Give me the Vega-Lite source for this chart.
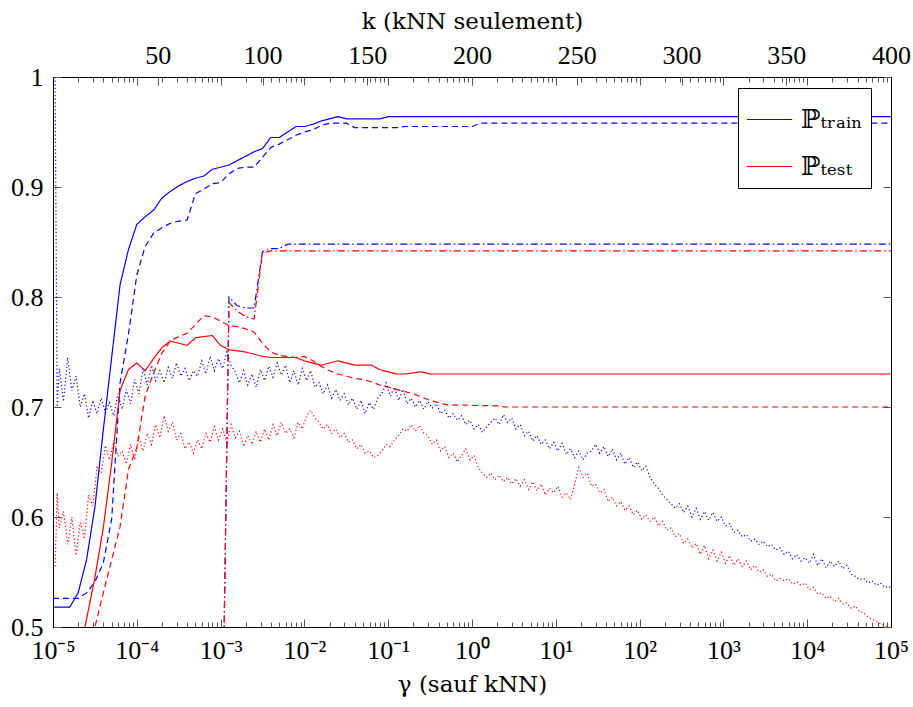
{
 "$schema": "https://vega.github.io/schema/vega-lite/v6.json",
 "width": 838,
 "height": 550,
 "autosize": {"type": "none"},
 "padding": {"left": 53, "top": 77, "right": 22, "bottom": 80},
 "config": {
  "font": "'Liberation Serif', serif",
  "view": {"stroke": "#000", "strokeWidth": 1},
  "axis": {"grid": false, "domainColor": "#000", "domainWidth": 1, "labelColor": "#000", "titleColor": "#000", "tickColor": "#555", "tickWidth": 1, "labelOverlap": false, "labelFlush": false, "labelBound": false}
 },
 "datasets": {
  "gam": [
   {"set":"train","line":"solid","g":1e-5,"v":0.518},{"set":"train","line":"solid","g":1.585e-5,"v":0.518},{"set":"train","line":"solid","g":1.995e-5,"v":0.531},{"set":"train","line":"solid","g":2.512e-5,"v":0.561},{"set":"train","line":"solid","g":3.162e-5,"v":0.609},{"set":"train","line":"solid","g":3.981e-5,"v":0.679},{"set":"train","line":"solid","g":5.012e-5,"v":0.745},{"set":"train","line":"solid","g":6.310e-5,"v":0.811},{"set":"train","line":"solid","g":7.943e-5,"v":0.843},{"set":"train","line":"solid","g":1e-4,"v":0.866},{"set":"train","line":"solid","g":1.259e-4,"v":0.873},{"set":"train","line":"solid","g":1.585e-4,"v":0.879},{"set":"train","line":"solid","g":1.995e-4,"v":0.890},{"set":"train","line":"solid","g":2.512e-4,"v":0.896},{"set":"train","line":"solid","g":3.162e-4,"v":0.901},{"set":"train","line":"solid","g":3.981e-4,"v":0.905},{"set":"train","line":"solid","g":5.012e-4,"v":0.908},{"set":"train","line":"solid","g":6.310e-4,"v":0.910},{"set":"train","line":"solid","g":7.943e-4,"v":0.916},{"set":"train","line":"solid","g":1e-3,"v":0.918},{"set":"train","line":"solid","g":1.259e-3,"v":0.920},{"set":"train","line":"solid","g":1.585e-3,"v":0.924},{"set":"train","line":"solid","g":1.995e-3,"v":0.928},{"set":"train","line":"solid","g":2.512e-3,"v":0.932},{"set":"train","line":"solid","g":3.162e-3,"v":0.935},{"set":"train","line":"solid","g":3.981e-3,"v":0.945},{"set":"train","line":"solid","g":5.012e-3,"v":0.945},{"set":"train","line":"solid","g":6.310e-3,"v":0.950},{"set":"train","line":"solid","g":7.943e-3,"v":0.955},{"set":"train","line":"solid","g":1e-2,"v":0.955},{"set":"train","line":"solid","g":1.259e-2,"v":0.957},{"set":"train","line":"solid","g":1.585e-2,"v":0.960},{"set":"train","line":"solid","g":1.995e-2,"v":0.962},{"set":"train","line":"solid","g":2.512e-2,"v":0.964},{"set":"train","line":"solid","g":3.162e-2,"v":0.962},{"set":"train","line":"solid","g":7.943e-2,"v":0.962},{"set":"train","line":"solid","g":0.1,"v":0.964},{"set":"train","line":"solid","g":1e5,"v":0.964},
   {"set":"train","line":"dashed","g":1e-5,"v":0.526},{"set":"train","line":"dashed","g":1.995e-5,"v":0.526},{"set":"train","line":"dashed","g":2.512e-5,"v":0.531},{"set":"train","line":"dashed","g":3.162e-5,"v":0.541},{"set":"train","line":"dashed","g":3.981e-5,"v":0.558},{"set":"train","line":"dashed","g":5.012e-5,"v":0.598},{"set":"train","line":"dashed","g":6.310e-5,"v":0.722},{"set":"train","line":"dashed","g":7.943e-5,"v":0.766},{"set":"train","line":"dashed","g":1e-4,"v":0.820},{"set":"train","line":"dashed","g":1.259e-4,"v":0.846},{"set":"train","line":"dashed","g":1.585e-4,"v":0.858},{"set":"train","line":"dashed","g":1.995e-4,"v":0.863},{"set":"train","line":"dashed","g":2.512e-4,"v":0.867},{"set":"train","line":"dashed","g":3.162e-4,"v":0.869},{"set":"train","line":"dashed","g":3.981e-4,"v":0.870},{"set":"train","line":"dashed","g":5.012e-4,"v":0.894},{"set":"train","line":"dashed","g":6.310e-4,"v":0.898},{"set":"train","line":"dashed","g":7.943e-4,"v":0.903},{"set":"train","line":"dashed","g":1e-3,"v":0.904},{"set":"train","line":"dashed","g":1.259e-3,"v":0.912},{"set":"train","line":"dashed","g":1.585e-3,"v":0.917},{"set":"train","line":"dashed","g":1.995e-3,"v":0.918},{"set":"train","line":"dashed","g":2.512e-3,"v":0.918},{"set":"train","line":"dashed","g":3.162e-3,"v":0.927},{"set":"train","line":"dashed","g":3.981e-3,"v":0.936},{"set":"train","line":"dashed","g":5.012e-3,"v":0.939},{"set":"train","line":"dashed","g":6.310e-3,"v":0.943},{"set":"train","line":"dashed","g":7.943e-3,"v":0.947},{"set":"train","line":"dashed","g":1e-2,"v":0.950},{"set":"train","line":"dashed","g":1.259e-2,"v":0.952},{"set":"train","line":"dashed","g":1.585e-2,"v":0.956},{"set":"train","line":"dashed","g":1.995e-2,"v":0.958},{"set":"train","line":"dashed","g":3.162e-2,"v":0.958},{"set":"train","line":"dashed","g":3.981e-2,"v":0.954},{"set":"train","line":"dashed","g":0.1259,"v":0.954},{"set":"train","line":"dashed","g":0.1585,"v":0.955},{"set":"train","line":"dashed","g":1,"v":0.955},{"set":"train","line":"dashed","g":1.259,"v":0.958},{"set":"train","line":"dashed","g":1e5,"v":0.958},
   {"set":"test","line":"solid","g":1.585e-5,"v":0.434},{"set":"test","line":"solid","g":2.512e-5,"v":0.507},{"set":"test","line":"solid","g":3.162e-5,"v":0.545},{"set":"test","line":"solid","g":3.981e-5,"v":0.590},{"set":"test","line":"solid","g":5.012e-5,"v":0.649},{"set":"test","line":"solid","g":6.310e-5,"v":0.715},{"set":"test","line":"solid","g":7.943e-5,"v":0.734},{"set":"test","line":"solid","g":1e-4,"v":0.740},{"set":"test","line":"solid","g":1.259e-4,"v":0.733},{"set":"test","line":"solid","g":1.585e-4,"v":0.744},{"set":"test","line":"solid","g":1.995e-4,"v":0.754},{"set":"test","line":"solid","g":2.512e-4,"v":0.760},{"set":"test","line":"solid","g":3.162e-4,"v":0.758},{"set":"test","line":"solid","g":3.981e-4,"v":0.756},{"set":"test","line":"solid","g":5.012e-4,"v":0.763},{"set":"test","line":"solid","g":6.310e-4,"v":0.764},{"set":"test","line":"solid","g":7.943e-4,"v":0.765},{"set":"test","line":"solid","g":1e-3,"v":0.756},{"set":"test","line":"solid","g":1.259e-3,"v":0.752},{"set":"test","line":"solid","g":1.585e-3,"v":0.751},{"set":"test","line":"solid","g":1.995e-3,"v":0.750},{"set":"test","line":"solid","g":2.512e-3,"v":0.748},{"set":"test","line":"solid","g":3.162e-3,"v":0.746},{"set":"test","line":"solid","g":3.981e-3,"v":0.745},{"set":"test","line":"solid","g":7.943e-3,"v":0.745},{"set":"test","line":"solid","g":1e-2,"v":0.742},{"set":"test","line":"solid","g":1.585e-2,"v":0.738},{"set":"test","line":"solid","g":2.512e-2,"v":0.742},{"set":"test","line":"solid","g":3.981e-2,"v":0.738},{"set":"test","line":"solid","g":6.310e-2,"v":0.738},{"set":"test","line":"solid","g":7.943e-2,"v":0.734},{"set":"test","line":"solid","g":0.1259,"v":0.730},{"set":"test","line":"solid","g":0.1585,"v":0.730},{"set":"test","line":"solid","g":0.2512,"v":0.732},{"set":"test","line":"solid","g":0.3162,"v":0.730},{"set":"test","line":"solid","g":1e5,"v":0.730},
   {"set":"test","line":"dashed","g":1.995e-5,"v":0.430},{"set":"test","line":"dashed","g":3.162e-5,"v":0.500},{"set":"test","line":"dashed","g":3.981e-5,"v":0.531},{"set":"test","line":"dashed","g":5.012e-5,"v":0.561},{"set":"test","line":"dashed","g":6.310e-5,"v":0.591},{"set":"test","line":"dashed","g":7.943e-5,"v":0.643},{"set":"test","line":"dashed","g":1e-4,"v":0.663},{"set":"test","line":"dashed","g":1.259e-4,"v":0.710},{"set":"test","line":"dashed","g":1.585e-4,"v":0.731},{"set":"test","line":"dashed","g":1.995e-4,"v":0.749},{"set":"test","line":"dashed","g":2.512e-4,"v":0.760},{"set":"test","line":"dashed","g":3.162e-4,"v":0.764},{"set":"test","line":"dashed","g":3.981e-4,"v":0.767},{"set":"test","line":"dashed","g":5.012e-4,"v":0.775},{"set":"test","line":"dashed","g":6.310e-4,"v":0.783},{"set":"test","line":"dashed","g":7.943e-4,"v":0.782},{"set":"test","line":"dashed","g":1e-3,"v":0.778},{"set":"test","line":"dashed","g":1.259e-3,"v":0.774},{"set":"test","line":"dashed","g":1.585e-3,"v":0.773},{"set":"test","line":"dashed","g":1.995e-3,"v":0.771},{"set":"test","line":"dashed","g":2.512e-3,"v":0.768},{"set":"test","line":"dashed","g":3.162e-3,"v":0.758},{"set":"test","line":"dashed","g":3.981e-3,"v":0.750},{"set":"test","line":"dashed","g":5.012e-3,"v":0.747},{"set":"test","line":"dashed","g":6.310e-3,"v":0.746},{"set":"test","line":"dashed","g":7.943e-3,"v":0.745},{"set":"test","line":"dashed","g":1e-2,"v":0.746},{"set":"test","line":"dashed","g":1.259e-2,"v":0.742},{"set":"test","line":"dashed","g":1.585e-2,"v":0.737},{"set":"test","line":"dashed","g":1.995e-2,"v":0.733},{"set":"test","line":"dashed","g":2.512e-2,"v":0.730},{"set":"test","line":"dashed","g":3.162e-2,"v":0.728},{"set":"test","line":"dashed","g":3.981e-2,"v":0.726},{"set":"test","line":"dashed","g":5.012e-2,"v":0.725},{"set":"test","line":"dashed","g":6.310e-2,"v":0.723},{"set":"test","line":"dashed","g":7.943e-2,"v":0.720},{"set":"test","line":"dashed","g":0.1,"v":0.718},{"set":"test","line":"dashed","g":0.1259,"v":0.716},{"set":"test","line":"dashed","g":0.1585,"v":0.714},{"set":"test","line":"dashed","g":0.1995,"v":0.712},{"set":"test","line":"dashed","g":0.2512,"v":0.709},{"set":"test","line":"dashed","g":0.3162,"v":0.706},{"set":"test","line":"dashed","g":0.3981,"v":0.704},{"set":"test","line":"dashed","g":0.5012,"v":0.702},{"set":"test","line":"dashed","g":1.995,"v":0.701},{"set":"test","line":"dashed","g":2.512,"v":0.700},{"set":"test","line":"dashed","g":1e5,"v":0.700},
   {"set":"train","line":"dashdot","g":1e-3,"v":0.28},{"set":"train","line":"dashdot","g":1.259e-3,"v":0.800},{"set":"train","line":"dashdot","g":1.585e-3,"v":0.792},{"set":"train","line":"dashdot","g":1.995e-3,"v":0.790},{"set":"train","line":"dashdot","g":2.512e-3,"v":0.790},{"set":"train","line":"dashdot","g":3.162e-3,"v":0.841},{"set":"train","line":"dashdot","g":3.981e-3,"v":0.844},{"set":"train","line":"dashdot","g":5.012e-3,"v":0.844},{"set":"train","line":"dashdot","g":6.310e-3,"v":0.848},{"set":"train","line":"dashdot","g":1e5,"v":0.848},
   {"set":"test","line":"dashdot","g":1e-3,"v":0.28},{"set":"test","line":"dashdot","g":1.259e-3,"v":0.795},{"set":"test","line":"dashdot","g":1.585e-3,"v":0.787},{"set":"test","line":"dashdot","g":1.995e-3,"v":0.782},{"set":"test","line":"dashdot","g":2.512e-3,"v":0.780},{"set":"test","line":"dashdot","g":3.162e-3,"v":0.840},{"set":"test","line":"dashdot","g":3.981e-3,"v":0.842},{"set":"test","line":"dashdot","g":1e5,"v":0.842}
  ],
  "knn": [
   {"k":1,"train":1.000,"test":0.555},{"k":2,"train":0.700,"test":0.622},{"k":3,"train":0.735,"test":0.590},{"k":5,"train":0.705,"test":0.605},{"k":7,"train":0.745,"test":0.575},{"k":9,"train":0.715,"test":0.600},{"k":11,"train":0.728,"test":0.565},{"k":13,"train":0.700,"test":0.595},{"k":15,"train":0.712,"test":0.580},{"k":17,"train":0.690,"test":0.620},{"k":19,"train":0.706,"test":0.610},{"k":21,"train":0.694,"test":0.645},{"k":23,"train":0.708,"test":0.640},{"k":25,"train":0.695,"test":0.665},{"k":27,"train":0.704,"test":0.652},{"k":29,"train":0.692,"test":0.668},{"k":31,"train":0.712,"test":0.655},{"k":33,"train":0.698,"test":0.660},{"k":35,"train":0.716,"test":0.648},{"k":37,"train":0.703,"test":0.666},{"k":39,"train":0.725,"test":0.652},{"k":41,"train":0.712,"test":0.672},{"k":43,"train":0.735,"test":0.660},{"k":45,"train":0.720,"test":0.676},{"k":47,"train":0.738,"test":0.666},{"k":49,"train":0.724,"test":0.684},{"k":51,"train":0.733,"test":0.672},{"k":53,"train":0.722,"test":0.692},{"k":55,"train":0.736,"test":0.678},{"k":57,"train":0.726,"test":0.686},{"k":59,"train":0.740,"test":0.670},{"k":61,"train":0.728,"test":0.676},{"k":63,"train":0.735,"test":0.662},{"k":65,"train":0.724,"test":0.668},{"k":67,"train":0.733,"test":0.658},{"k":69,"train":0.728,"test":0.670},{"k":71,"train":0.742,"test":0.662},{"k":73,"train":0.730,"test":0.676},{"k":75,"train":0.746,"test":0.668},{"k":77,"train":0.733,"test":0.682},{"k":79,"train":0.744,"test":0.670},{"k":81,"train":0.735,"test":0.680},{"k":83,"train":0.750,"test":0.668},{"k":85,"train":0.738,"test":0.684},{"k":87,"train":0.732,"test":0.672},{"k":89,"train":0.722,"test":0.678},{"k":91,"train":0.733,"test":0.664},{"k":93,"train":0.720,"test":0.674},{"k":95,"train":0.730,"test":0.666},{"k":97,"train":0.718,"test":0.678},{"k":99,"train":0.734,"test":0.668},{"k":101,"train":0.724,"test":0.680},{"k":103,"train":0.737,"test":0.670},{"k":105,"train":0.727,"test":0.684},{"k":107,"train":0.740,"test":0.674},{"k":109,"train":0.729,"test":0.686},{"k":111,"train":0.738,"test":0.676},{"k":113,"train":0.722,"test":0.680},{"k":115,"train":0.733,"test":0.672},{"k":117,"train":0.720,"test":0.686},{"k":119,"train":0.735,"test":0.680},{"k":121,"train":0.724,"test":0.692},{"k":123,"train":0.733,"test":0.697},{"k":125,"train":0.718,"test":0.690},{"k":127,"train":0.722,"test":0.686},{"k":129,"train":0.712,"test":0.680},{"k":131,"train":0.720,"test":0.684},{"k":133,"train":0.708,"test":0.676},{"k":135,"train":0.716,"test":0.680},{"k":137,"train":0.706,"test":0.672},{"k":139,"train":0.712,"test":0.676},{"k":141,"train":0.702,"test":0.668},{"k":143,"train":0.708,"test":0.670},{"k":145,"train":0.698,"test":0.662},{"k":147,"train":0.706,"test":0.666},{"k":149,"train":0.694,"test":0.658},{"k":151,"train":0.704,"test":0.660},{"k":153,"train":0.698,"test":0.654},{"k":155,"train":0.708,"test":0.656},{"k":157,"train":0.712,"test":0.660},{"k":159,"train":0.722,"test":0.666},{"k":161,"train":0.710,"test":0.664},{"k":163,"train":0.718,"test":0.670},{"k":165,"train":0.706,"test":0.674},{"k":167,"train":0.716,"test":0.680},{"k":169,"train":0.703,"test":0.678},{"k":171,"train":0.708,"test":0.684},{"k":173,"train":0.700,"test":0.678},{"k":175,"train":0.706,"test":0.683},{"k":177,"train":0.698,"test":0.676},{"k":179,"train":0.705,"test":0.674},{"k":181,"train":0.699,"test":0.666},{"k":183,"train":0.703,"test":0.670},{"k":185,"train":0.694,"test":0.660},{"k":187,"train":0.697,"test":0.664},{"k":189,"train":0.690,"test":0.654},{"k":191,"train":0.694,"test":0.658},{"k":193,"train":0.688,"test":0.650},{"k":195,"train":0.692,"test":0.656},{"k":197,"train":0.684,"test":0.662},{"k":199,"train":0.688,"test":0.652},{"k":201,"train":0.680,"test":0.656},{"k":203,"train":0.684,"test":0.645},{"k":205,"train":0.677,"test":0.640},{"k":207,"train":0.682,"test":0.636},{"k":209,"train":0.686,"test":0.640},{"k":211,"train":0.690,"test":0.634},{"k":213,"train":0.684,"test":0.638},{"k":215,"train":0.693,"test":0.632},{"k":217,"train":0.686,"test":0.636},{"k":219,"train":0.690,"test":0.630},{"k":221,"train":0.680,"test":0.635},{"k":223,"train":0.684,"test":0.628},{"k":225,"train":0.674,"test":0.634},{"k":227,"train":0.678,"test":0.625},{"k":229,"train":0.669,"test":0.632},{"k":231,"train":0.674,"test":0.624},{"k":233,"train":0.666,"test":0.630},{"k":235,"train":0.670,"test":0.620},{"k":237,"train":0.662,"test":0.626},{"k":239,"train":0.668,"test":0.622},{"k":241,"train":0.660,"test":0.628},{"k":243,"train":0.667,"test":0.618},{"k":245,"train":0.657,"test":0.622},{"k":247,"train":0.662,"test":0.616},{"k":249,"train":0.654,"test":0.630},{"k":251,"train":0.660,"test":0.645},{"k":253,"train":0.652,"test":0.636},{"k":255,"train":0.658,"test":0.640},{"k":257,"train":0.660,"test":0.628},{"k":259,"train":0.666,"test":0.630},{"k":261,"train":0.658,"test":0.622},{"k":263,"train":0.664,"test":0.625},{"k":265,"train":0.655,"test":0.614},{"k":267,"train":0.662,"test":0.618},{"k":269,"train":0.652,"test":0.610},{"k":271,"train":0.658,"test":0.614},{"k":273,"train":0.648,"test":0.606},{"k":275,"train":0.654,"test":0.610},{"k":277,"train":0.645,"test":0.602},{"k":279,"train":0.650,"test":0.606},{"k":281,"train":0.642,"test":0.598},{"k":283,"train":0.646,"test":0.602},{"k":285,"train":0.636,"test":0.596},{"k":287,"train":0.630,"test":0.600},{"k":289,"train":0.626,"test":0.592},{"k":291,"train":0.620,"test":0.596},{"k":293,"train":0.616,"test":0.588},{"k":295,"train":0.612,"test":0.590},{"k":297,"train":0.608,"test":0.582},{"k":299,"train":0.612,"test":0.585},{"k":301,"train":0.604,"test":0.576},{"k":303,"train":0.610,"test":0.580},{"k":305,"train":0.600,"test":0.572},{"k":307,"train":0.608,"test":0.576},{"k":309,"train":0.598,"test":0.566},{"k":311,"train":0.605,"test":0.574},{"k":313,"train":0.597,"test":0.562},{"k":315,"train":0.604,"test":0.570},{"k":317,"train":0.596,"test":0.560},{"k":319,"train":0.600,"test":0.568},{"k":321,"train":0.592,"test":0.558},{"k":323,"train":0.594,"test":0.565},{"k":325,"train":0.586,"test":0.556},{"k":327,"train":0.588,"test":0.562},{"k":329,"train":0.582,"test":0.555},{"k":331,"train":0.584,"test":0.560},{"k":333,"train":0.578,"test":0.552},{"k":335,"train":0.580,"test":0.556},{"k":337,"train":0.575,"test":0.550},{"k":339,"train":0.578,"test":0.552},{"k":341,"train":0.573,"test":0.546},{"k":343,"train":0.575,"test":0.548},{"k":345,"train":0.570,"test":0.542},{"k":347,"train":0.572,"test":0.544},{"k":349,"train":0.566,"test":0.542},{"k":351,"train":0.569,"test":0.544},{"k":353,"train":0.562,"test":0.539},{"k":355,"train":0.566,"test":0.541},{"k":357,"train":0.560,"test":0.538},{"k":359,"train":0.563,"test":0.540},{"k":361,"train":0.558,"test":0.534},{"k":363,"train":0.566,"test":0.536},{"k":365,"train":0.556,"test":0.530},{"k":367,"train":0.562,"test":0.531},{"k":369,"train":0.554,"test":0.526},{"k":371,"train":0.560,"test":0.528},{"k":373,"train":0.555,"test":0.523},{"k":375,"train":0.560,"test":0.526},{"k":377,"train":0.553,"test":0.521},{"k":379,"train":0.556,"test":0.522},{"k":381,"train":0.548,"test":0.517},{"k":383,"train":0.546,"test":0.519},{"k":385,"train":0.543,"test":0.514},{"k":387,"train":0.544,"test":0.513},{"k":389,"train":0.540,"test":0.509},{"k":391,"train":0.542,"test":0.507},{"k":393,"train":0.538,"test":0.505},{"k":395,"train":0.540,"test":0.503},{"k":397,"train":0.536,"test":0.501},{"k":399,"train":0.537,"test":0.500},{"k":400,"train":0.535,"test":0.499}
  ]
 },
 "layer": [
  {
   "data": {"name": "gam"},
   "layer": [
    {
     "mark": {"type": "line", "strokeWidth": 1.2, "clip": true},
     "encoding": {
      "x": {"field": "g", "type": "quantitative", "scale": {"type": "log", "domain": [1e-5, 1e5], "nice": false},
       "axis": {"orient": "bottom", "title": "γ (sauf kNN)", "titlePadding": 7, "titleFont": "'DejaVu Serif', serif", "titleFontSize": 23, "titleFontWeight": "normal", "labelFont": "'Liberation Serif', serif", "labelFontSize": 26,
        "values": [1e-5,2e-5,3e-5,4e-5,5e-5,6e-5,7e-5,8e-5,9e-5,1e-4,2e-4,3e-4,4e-4,5e-4,6e-4,7e-4,8e-4,9e-4,1e-3,2e-3,3e-3,4e-3,5e-3,6e-3,7e-3,8e-3,9e-3,0.01,0.02,0.03,0.04,0.05,0.06,0.07,0.08,0.09,0.1,0.2,0.3,0.4,0.5,0.6,0.7,0.8,0.9,1,2,3,4,5,6,7,8,9,10,20,30,40,50,60,70,80,90,100,200,300,400,500,600,700,800,900,1000,2000,3000,4000,5000,6000,7000,8000,9000,10000,20000,30000,40000,50000,60000,70000,80000,90000,100000],
        "labelExpr": "abs(log(datum.value)/LN10 - round(log(datum.value)/LN10)) < 0.001 ? ['10⁻⁵','10⁻⁴','10⁻³','10⁻²','10⁻¹','10⁰','10¹','10²','10³','10⁴','10⁵'][round(log(datum.value)/LN10)+5] : ''",
        "tickSize": {"condition": {"test": "abs(log(datum.value)/LN10 - round(log(datum.value)/LN10)) < 0.001", "value": -8}, "value": -5},
        "labelPadding": 18}},
      "y": {"field": "v", "type": "quantitative", "scale": {"domain": [0.5, 1], "nice": false},
       "axis": {"orient": "left", "title": null, "labelFont": "'Liberation Serif', serif", "labelFontSize": 26, "values": [0.5, 0.6, 0.7, 0.8, 0.9, 1], "labelExpr": "datum.value == 1 ? '1' : format(datum.value, '.1f')", "tickSize": -8, "labelPadding": 18}},
      "color": {"field": "set", "type": "nominal", "scale": {"domain": ["train", "test"], "range": ["#0000ff", "#ff0000"]},
       "legend": {"orient": "none", "legendX": 685, "legendY": 11, "direction": "vertical", "title": null, "strokeColor": "#000", "fillColor": "#fff", "padding": 8, "symbolType": "stroke", "symbolSize": 2025, "symbolStrokeWidth": 1.2, "labelFontSize": 26, "labelFont": "'DejaVu Serif', serif", "labelColor": "#000", "rowPadding": 10, "labelOffset": 8, "labelExpr": "datum.value == 'train' ? 'ℙₜᵣₐᵢₙ' : 'ℙₜₑₛₜ'",
        "encode": {"symbols": {"update": {"stroke": {"scale": "color", "field": "value"}}}}}},
      "strokeDash": {"field": "line", "type": "nominal", "scale": {"domain": ["solid", "dashed", "dashdot"], "range": [[1, 0], [6, 4], [7, 3, 1.5, 3]]}, "legend": null}
     }
    },
    {
     "mark": {"type": "point", "opacity": 0},
     "encoding": {
      "x": {"field": "g", "type": "quantitative", "scale": {"type": "log", "domain": [1e-5, 1e5], "nice": false},
       "axis": {"orient": "top", "title": null, "labels": false,
        "values": [1e-5,2e-5,3e-5,4e-5,5e-5,6e-5,7e-5,8e-5,9e-5,1e-4,2e-4,3e-4,4e-4,5e-4,6e-4,7e-4,8e-4,9e-4,1e-3,2e-3,3e-3,4e-3,5e-3,6e-3,7e-3,8e-3,9e-3,0.01,0.02,0.03,0.04,0.05,0.06,0.07,0.08,0.09,0.1,0.2,0.3,0.4,0.5,0.6,0.7,0.8,0.9,1,2,3,4,5,6,7,8,9,10,20,30,40,50,60,70,80,90,100,200,300,400,500,600,700,800,900,1000,2000,3000,4000,5000,6000,7000,8000,9000,10000,20000,30000,40000,50000,60000,70000,80000,90000,100000],
        "tickSize": {"condition": {"test": "abs(log(datum.value)/LN10 - round(log(datum.value)/LN10)) < 0.001", "value": -8}, "value": -5}}},
      "y": {"field": "v", "type": "quantitative", "scale": {"domain": [0.5, 1], "nice": false}, "axis": null}
     }
    }
   ],
   "resolve": {"scale": {"x": "shared"}, "axis": {"x": "independent", "y": "independent"}}
  },
  {
   "data": {"name": "knn"},
   "transform": [{"fold": ["train", "test"], "as": ["set", "v"]}],
   "mark": {"type": "line", "strokeWidth": 1.2, "strokeDash": [1.2, 2.4], "clip": true},
   "encoding": {
    "x": {"field": "k", "type": "quantitative", "scale": {"domain": [0, 400], "nice": false},
     "axis": {"orient": "top", "title": "k (kNN seulement)", "titlePadding": 9, "titleFont": "'DejaVu Serif', serif", "titleFontSize": 23, "titleFontWeight": "normal", "labelFont": "'Liberation Serif', serif", "labelFontSize": 26, "values": [50, 100, 150, 200, 250, 300, 350, 400], "tickSize": -8, "labelPadding": 17}},
    "y": {"field": "v", "type": "quantitative", "scale": {"domain": [0.5, 1], "nice": false},
     "axis": {"orient": "right", "title": null, "labels": false, "values": [0.5, 0.6, 0.7, 0.8, 0.9, 1], "tickSize": -8}},
    "color": {"field": "set", "type": "nominal", "scale": {"domain": ["train", "test"], "range": ["#0000ff", "#ff0000"]}}
   }
  }
 ],
 "resolve": {"scale": {"x": "independent"}, "axis": {"y": "independent"}}
}
